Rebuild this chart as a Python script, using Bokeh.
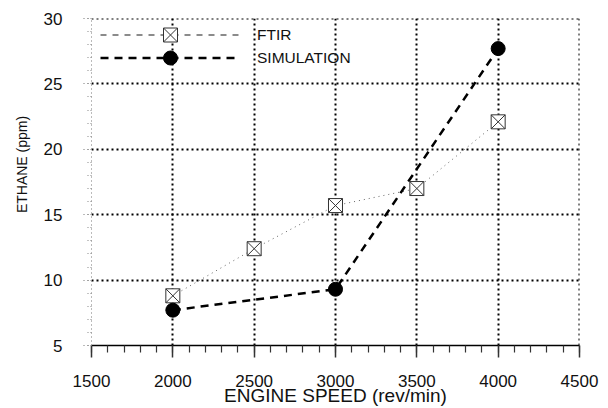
from bokeh.plotting import figure
from bokeh.models import Range1d, SingleIntervalTicker, Legend, LegendItem
from bokeh.embed import file_html
from bokeh.resources import INLINE

# ---- data ----
speed_ftir = [2000, 2500, 3000, 3500, 4000]
ethane_ftir = [8.8, 12.4, 15.7, 17.0, 22.1]
speed_sim = [2000, 3000, 4000]
ethane_sim = [7.7, 9.3, 27.7]
x_label = "ENGINE SPEED (rev/min)"
y_label = "ETHANE (ppm)"
name_ftir = "FTIR"
name_sim = "SIMULATION"

FONT = "Liberation Sans"

p = figure(width=608, height=408, output_backend="svg", toolbar_location=None,
           x_range=Range1d(1500, 4500.01), y_range=Range1d(5, 30.001),
           min_border_left=91, min_border_right=29, min_border_top=18,
           min_border_bottom=62)
p.outline_line_color = None
p.background_fill_color = "white"
p.border_fill_color = "white"

# grids
p.xgrid.ticker = SingleIntervalTicker(interval=500, num_minor_ticks=5)
p.ygrid.ticker = SingleIntervalTicker(interval=5, num_minor_ticks=5)
p.xgrid.bounds = (1600, 4600)
p.ygrid.bounds = (6, 31)
for g in (p.xgrid, p.ygrid):
    g.grid_line_color = "black"
    g.grid_line_width = 2
    g.grid_line_dash = "2 3"
    g.grid_line_alpha = 1.0

# x axis
xa = p.xaxis[0]
xa.ticker = SingleIntervalTicker(interval=500, num_minor_ticks=5)
xa.axis_line_color = "black"
xa.axis_line_width = 1.5
xa.major_tick_line_color = "#333333"
xa.major_tick_line_width = 1.5
xa.major_tick_out = 12
xa.major_tick_in = 0
xa.minor_tick_line_color = "#333333"
xa.minor_tick_line_width = 1.2
xa.minor_tick_out = 7
xa.minor_tick_in = 0
xa.major_label_standoff = 17
xa.major_label_text_font = FONT
xa.major_label_text_font_size = "17px"
xa.major_label_text_color = "#111111"
xa.axis_label = x_label
xa.axis_label_text_font = FONT
xa.axis_label_text_font_size = "19px"
xa.axis_label_text_font_style = "normal"
xa.axis_label_text_color = "#111111"
xa.axis_label_standoff = -5

# y axis
ya = p.yaxis[0]
ya.ticker = SingleIntervalTicker(interval=5, num_minor_ticks=5)
ya.axis_line_color = "#777777"
ya.axis_line_width = 1
ya.axis_line_dash = "1 3"
ya.major_tick_line_color = "#777777"
ya.major_tick_line_dash = "1 3"
ya.major_tick_out = 8
ya.major_tick_in = 0
ya.minor_tick_line_color = "#888888"
ya.minor_tick_line_dash = "1 2"
ya.minor_tick_out = 4
ya.minor_tick_in = 0
ya.major_label_standoff = 21
ya.major_label_text_font = FONT
ya.major_label_text_font_size = "17px"
ya.major_label_text_color = "#111111"
# leading no-break spaces nudge the label up along the axis, as in the original
ya.axis_label = "\u00a0" * 9 + y_label
ya.axis_label_text_font = FONT
ya.axis_label_text_font_size = "14px"
ya.axis_label_text_font_style = "normal"
ya.axis_label_text_color = "#111111"
ya.axis_label_standoff = 11

# data renderers
l_ftir = p.line(speed_ftir, ethane_ftir, line_color="#666666", line_width=1,
                line_dash="1 4")
l_sim = p.line(speed_sim, ethane_sim, line_color="black", line_width=2.5,
               line_dash="8 6")
s_ftir = p.scatter(speed_ftir, ethane_ftir, marker="square_x", size=14,
                   fill_color="white", line_color="#333333", line_width=1)
s_sim = p.scatter(speed_sim, ethane_sim, marker="circle", size=14,
                  fill_color="black", line_color="black")

# key-only line sample for FTIR (dashed in the key), not drawn in the plot
l_ftir_key = p.line(speed_ftir, ethane_ftir, line_color="#666666",
                    line_width=1.5, line_dash="6 6", visible=False)


def make_legend(label, renderers, loc):
    lg = Legend(items=[LegendItem(label=label, renderers=renderers)],
                location=loc)
    lg.margin = 0
    lg.padding = 0
    lg.spacing = 0
    lg.glyph_width = 140
    lg.glyph_height = 35
    lg.label_standoff = 17
    lg.label_height = 20
    lg.label_text_font = FONT
    lg.label_text_font_size = "15.5px"
    lg.label_text_color = "#111111"
    lg.background_fill_alpha = 0
    lg.border_line_alpha = 0
    return lg


p.add_layout(make_legend(name_ftir, [l_ftir_key, s_ftir], (9, 293)), "center")
p.add_layout(make_legend(name_sim, [l_sim, s_sim], (9, 270)), "center")

open("out.html", "w").write(file_html(p, INLINE))
